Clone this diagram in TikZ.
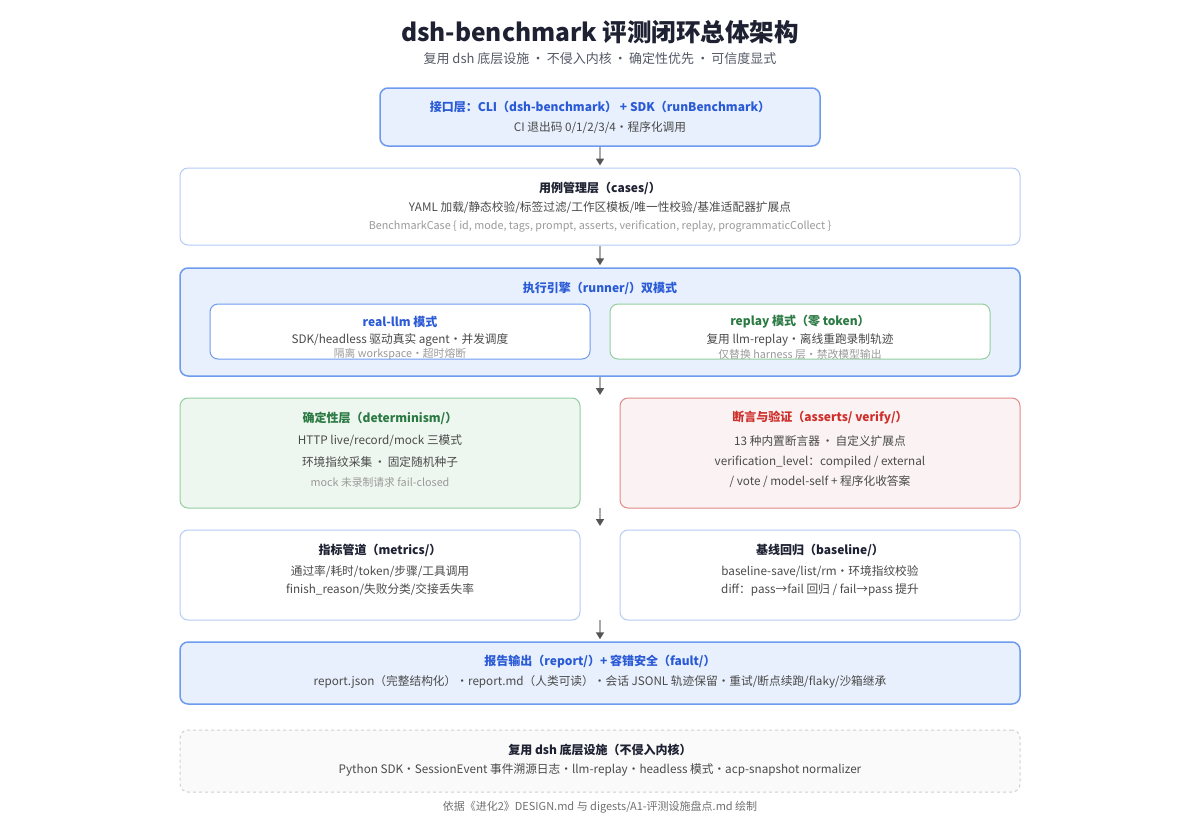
\documentclass[tikz,border=0pt]{standalone}
\usepackage{fontspec}
\setmainfont{Noto Sans CJK SC}
\usetikzlibrary{arrows.meta}

\definecolor{titledark}{HTML}{1D2131}
\definecolor{subgray}{HTML}{555A66}
\definecolor{bodygray}{HTML}{4A4A4A}
\definecolor{faintgray}{HTML}{9A9A9A}
\definecolor{footgray}{HTML}{707070}
\definecolor{bluefill}{HTML}{E8F0FD}
\definecolor{blueline}{HTML}{6E9BF0}
\definecolor{bluetext}{HTML}{2A5AD6}
\definecolor{paleblue}{HTML}{B4CBF5}
\definecolor{greenfill}{HTML}{EEF7EF}
\definecolor{greenline}{HTML}{93CF9E}
\definecolor{greentext}{HTML}{2B7A43}
\definecolor{redfill}{HTML}{FBF3F3}
\definecolor{redline}{HTML}{E18A88}
\definecolor{redtext}{HTML}{CF2F2B}
\definecolor{dashgray}{HTML}{CFCFCF}
\definecolor{basefill}{HTML}{FAFAFA}
\definecolor{shaftgray}{HTML}{AAAAAA}
\definecolor{headgray}{HTML}{555555}

\begin{document}
\begin{tikzpicture}[x=1pt,y=-1pt,
    layer/.style={draw=blueline, fill=bluefill, line width=1.5pt, rounded corners=8pt},
    plain/.style={draw=paleblue, fill=white, line width=1pt, rounded corners=8pt},
    greenbox/.style={draw=greenline, fill=greenfill, line width=1pt, rounded corners=8pt},
    redbox/.style={draw=redline, fill=redfill, line width=1pt, rounded corners=8pt},
    basebox/.style={draw=dashgray, fill=basefill, line width=1pt, dashed, rounded corners=8pt},
    bluetitle/.style={text=bluetext, font=\fontsize{12}{14}\selectfont\bfseries},
    darktitle/.style={text=titledark, font=\fontsize{12}{14}\selectfont\bfseries},
    greentitle/.style={text=greentext, font=\fontsize{12}{14}\selectfont\bfseries},
    redtitle/.style={text=redtext, font=\fontsize{12}{14}\selectfont\bfseries},
    body/.style={text=bodygray, font=\fontsize{11.7}{13}\selectfont},
    faint/.style={text=faintgray, font=\fontsize{10.8}{12}\selectfont},
    arr/.style={draw=shaftgray, line width=1.5pt, -{Triangle[length=7pt,width=8pt,color=headgray]}, shorten >=2pt}]

    \useasboundingbox (0,0) rectangle (1200,820);
    \fill[white] (0,0) rectangle (1200,820);

    \node[text=titledark, font=\fontsize{24.5}{28}\selectfont\bfseries] at (600,32) (title) {dsh-benchmark 评测闭环总体架构};
    \node[text=subgray, font=\fontsize{13}{15}\selectfont] at (600,59) (subtitle) {复用 dsh 底层设施\,·\,不侵入内核\,·\,确定性优先\,·\,可信度显式};

    \node[layer, minimum width=440pt, minimum height=58pt] at (600,117) (iface) {};
    \node[bluetitle] at (600,107) (iface-t) {接口层：CLI（dsh-benchmark） + SDK（runBenchmark）};
    \node[body] at (600,128) (iface-b) {CI 退出码 0/1/2/3/4·程序化调用};

    \node[plain, minimum width=840pt, minimum height=77pt] at (600,206.5) (cases) {};
    \node[darktitle] at (600,188) (cases-t) {用例管理层（cases/）};
    \node[body] at (600,208) (cases-b) {YAML 加载/静态校验/标签过滤/工作区模板/唯一性校验/基准适配器扩展点};
    \node[faint] at (600,226) (cases-f) {BenchmarkCase \{ id, mode, tags, prompt, asserts, verification, replay, programmaticCollect \}};

    \node[layer, minimum width=840pt, minimum height=108pt] at (600,322) (runner) {};
    \node[bluetitle] at (600,288) (runner-t) {执行引擎（runner/）双模式};
    \node[plain, draw=blueline, minimum width=380pt, minimum height=55pt] at (400,331.5) (real) {};
    \node[bluetitle] at (400,322) (real-t) {real-llm 模式};
    \node[body] at (400,340) (real-b) {SDK/headless 驱动真实 agent·并发调度};
    \node[faint] at (400,354) (real-f) {隔离 workspace·超时熔断};
    \node[plain, draw=greenline, minimum width=380pt, minimum height=55pt] at (800,331.5) (replay) {};
    \node[greentitle] at (800,322) (replay-t) {replay 模式（零 token）};
    \node[body] at (800,340) (replay-b) {复用 llm-replay·离线重跑录制轨迹};
    \node[faint] at (800,354) (replay-f) {仅替换 harness 层·禁改模型输出};

    \node[greenbox, minimum width=400pt, minimum height=110pt] at (380,453) (determ) {};
    \node[greentitle] at (380,418) (determ-t) {确定性层（determinism/）};
    \node[body] at (380,441) (determ-b1) {HTTP live/record/mock 三模式};
    \node[body] at (380,462) (determ-b2) {环境指纹采集\,·\,固定随机种子};
    \node[faint] at (380,482) (determ-f) {mock 未录制请求 fail-closed};

    \node[redbox, minimum width=400pt, minimum height=110pt] at (820,453) (asserts) {};
    \node[redtitle] at (820,418) (asserts-t) {断言与验证（asserts/ verify/）};
    \node[body] at (820,441) (asserts-b1) {13 种内置断言器\,·\,自定义扩展点};
    \node[body] at (820,462) (asserts-b2) {verification\_level：compiled / external};
    \node[body] at (820,482) (asserts-b3) {/ vote / model-self + 程序化收答案};

    \node[plain, minimum width=400pt, minimum height=90pt] at (380,575) (metrics) {};
    \node[darktitle] at (380,550) (metrics-t) {指标管道（metrics/）};
    \node[body] at (380,572) (metrics-b1) {通过率/耗时/token/步骤/工具调用};
    \node[body] at (380,590) (metrics-b2) {finish\_reason/失败分类/交接丢失率};

    \node[plain, minimum width=400pt, minimum height=90pt] at (820,575) (baseline) {};
    \node[darktitle] at (820,550) (baseline-t) {基线回归（baseline/）};
    \node[body] at (820,572) (baseline-b1) {baseline-save/list/rm·环境指纹校验};
    \node[body] at (820,590) (baseline-b2) {diff：pass→fail 回归 / fail→pass 提升};

    \node[layer, minimum width=840pt, minimum height=62pt] at (600,673) (report) {};
    \node[bluetitle] at (600,662) (report-t) {报告输出（report/）+ 容错安全（fault/）};
    \node[body] at (600,682) (report-b) {report.json（完整结构化）·report.md（人类可读）·会话 JSONL 轨迹保留·重试/断点续跑/flaky/沙箱继承};

    \node[basebox, minimum width=840pt, minimum height=62pt] at (600,761) (reuse) {};
    \node[darktitle] at (600,750) (reuse-t) {复用 dsh 底层设施（不侵入内核）};
    \node[body] at (600,770) (reuse-b) {Python SDK·SessionEvent 事件溯源日志·llm-replay·headless 模式·acp-snapshot normalizer};

    \node[text=footgray, font=\fontsize{11}{13}\selectfont] at (600,807) (footer) {依据《进化2》DESIGN.md 与 digests/A1-评测设施盘点.md 绘制};

    \coordinate (gap1) at (600,397);
    \coordinate (row1) at (600,508);
    \coordinate (gap2) at (600,528);
    \coordinate (row2) at (600,620);

    \draw[arr] (iface) -- (cases);
    \draw[arr] (cases) -- (runner);
    \draw[arr] (runner) -- (gap1);
    \draw[arr] (row1) -- (gap2);
    \draw[arr] (row2) -- (report);
\end{tikzpicture}
\end{document}
